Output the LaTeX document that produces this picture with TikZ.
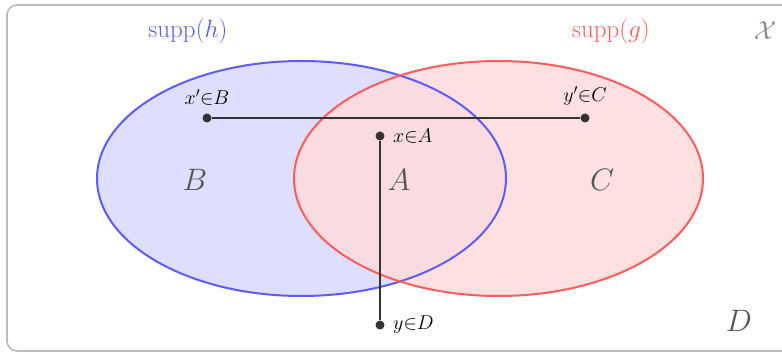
\RequirePackage{fix-cm}
\documentclass[tikz,border=0pt]{standalone}
\usepackage{amsmath,amssymb}
\usepackage{tikz}
\usetikzlibrary{positioning}
\definecolor{supphblue}{HTML}{5C5CFF}
\definecolor{suppgred}{HTML}{FF5C5C}
\definecolor{setgray}{HTML}{555555}
\definecolor{pathgray}{HTML}{333333}
\definecolor{framegray}{HTML}{BBBBBB}
\definecolor{spacegray}{HTML}{8A8A8A}

\begin{document}
\begin{tikzpicture}[x=1pt,y=-1pt,
  dot/.style={circle,fill=pathgray,inner sep=0pt,minimum size=9pt},
  ptlabel/.style={font=\fontsize{20}{24}\selectfont},
  setlabel/.style={text=setgray,font=\fontsize{31}{36}\selectfont},
  supplabel/.style={font=\fontsize{25}{30}\selectfont},
  pathline/.style={pathgray,line width=2.2pt}]
\useasboundingbox (0,0) rectangle (782,352);
\draw[framegray,line width=1.6pt,rounded corners=10pt] (7,5) rectangle (830,351);
\fill[supphblue!20] (301.5,178.5) ellipse [x radius=204.5pt,y radius=117.5pt];
\fill[suppgred!22,fill opacity=0.85] (498.5,178.5) ellipse [x radius=204.5pt,y radius=117.5pt];
\draw[supphblue,line width=2pt] (301.5,178.5) ellipse [x radius=204.5pt,y radius=117.5pt];
\draw[suppgred,line width=2pt] (498.5,178.5) ellipse [x radius=204.5pt,y radius=117.5pt];
\node[supplabel,text=supphblue] (supph) at (188,31) {supp$(h)$};
\node[supplabel,text=suppgred] (suppg) at (611,31) {supp$(g)$};
\node[text=spacegray,font=\fontsize{26}{30}\selectfont] (space) at (765,31) {$\mathcal{X}$};
\node[setlabel] (setb) at (195,180) {$B$};
\node[setlabel] (seta) at (399,180) {$A$};
\node[setlabel] (setc) at (602,180) {$C$};
\node[setlabel] (setd) at (739,321) {$D$};
\node[dot] (xb) at (207,118) {};
\node[dot] (yc) at (585,118) {};
\node[dot] (xa) at (380,136) {};
\node[dot] (yd) at (380,325) {};
\node[ptlabel,above=4pt of xb] (xblabel) {$x'{\in}B$};
\node[ptlabel,above=4pt of yc] (yclabel) {$y'{\in}C$};
\node[ptlabel,right=5pt of xa] (xalabel) {$x{\in}A$};
\node[ptlabel,right=5pt of yd] (ydlabel) {$y{\in}D$};
\draw[pathline] (xb)--(yc);
\draw[pathline] (xa)--(yd);
\end{tikzpicture}
\end{document}
